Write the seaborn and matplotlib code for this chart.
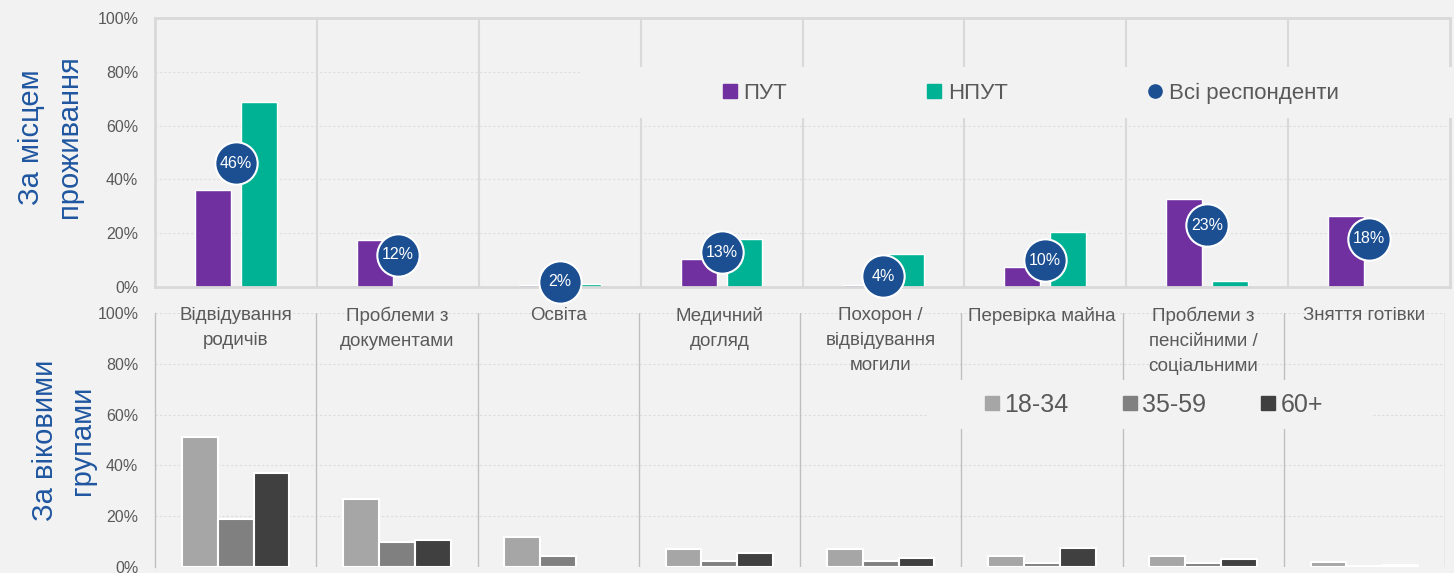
import numpy as np
import pandas as pd
import matplotlib
matplotlib.use("Agg")
import matplotlib.pyplot as plt
import seaborn as sns
from matplotlib.lines import Line2D
from matplotlib.patches import Rectangle
from matplotlib.ticker import PercentFormatter

# --- data ---
categories = ["Відвідування\nродичів", "Проблеми з\nдокументами", "Освіта",
              "Медичний\nдогляд", "Похорон /\nвідвідування\nмогили",
              "Перевірка майна", "Проблеми з\nпенсійними /\nсоціальними",
              "Зняття готівки"]

put = [36, 17.4, 0.8, 10.4, 0.8, 7.3, 32.7, 26.4]
nput = [68.7, 0, 1.1, 18, 12.4, 20.3, 2.2, 0]
all_resp = [46, 12, 2, 13, 4, 10, 23, 18]

age_groups = ["18-34", "35-59", "60+"]
age_18_34 = [51, 26.6, 11.7, 7, 6.9, 4.4, 4.4, 1.9]
age_35_59 = [18.7, 9.6, 4.1, 2.4, 2.3, 1.3, 1.3, 0.4]
age_60 = [36.9, 10.5, 0, 5.3, 3.6, 7.5, 2.9, 0.6]

# --- style ---
BG = "#f2f2f2"
PURPLE = "#7030a0"
TEAL = "#00b294"
BUBBLE = "#1b4f92"
LABEL_BLUE = "#1f56a0"
TXT = "#595959"
GRAYS = ["#a6a6a6", "#808080", "#404040"]

sns.set_theme(style="white")
plt.rcParams["font.family"] = ["Liberation Sans", "DejaVu Sans"]

W, H = 1454, 573
fig = plt.figure(figsize=(W / 100, H / 100), dpi=100, facecolor=BG)
ax1 = fig.add_axes([155 / W, 1 - 287 / H, (1450 - 155) / W, (287 - 18) / H])
ax2 = fig.add_axes([155 / W, 1 - 566.7 / H, (1445 - 155) / W, (566.7 - 313.3) / H])

# --- top panel: by place of residence ---
df_top = pd.DataFrame({
    "cat": categories * 2,
    "group": ["ПУТ"] * len(categories) + ["НПУТ"] * len(categories),
    "value": put + nput,
})
sns.barplot(data=df_top, x="cat", y="value", hue="group",
            palette={"ПУТ": PURPLE, "НПУТ": TEAL}, width=0.568, gap=0.22,
            saturation=1, legend=False, ax=ax1)

pos = np.arange(len(categories))
ax1.scatter(pos, all_resp, s=930, color=BUBBLE, edgecolor="white",
            linewidth=1.5, zorder=5, clip_on=False)
for x, v in zip(pos, all_resp):
    ax1.text(x, v, f"{v}%", ha="center", va="center", color="white",
             fontsize=11.5, zorder=6)

# --- bottom panel: by age group ---
df_age = pd.DataFrame({
    "cat": categories * 3,
    "group": sum([[g] * len(categories) for g in age_groups], []),
    "value": age_18_34 + age_35_59 + age_60,
})
sns.barplot(data=df_age, x="cat", y="value", hue="group",
            palette=dict(zip(age_groups, GRAYS)), width=0.667,
            saturation=1, edgecolor="white", linewidth=1.5,
            legend=False, ax=ax2)
# empty bars should not leave a white outline on the baseline
for p in ax2.patches:
    if p.get_height() == 0:
        p.set_linewidth(0)

for i, c in enumerate(categories):
    ax2.text(i, 102.5, c, ha="center", va="top", fontsize=13.5,
             color=TXT, linespacing=1.62)

# --- axes cosmetics ---
for ax in (ax1, ax2):
    ax.set_facecolor(BG)
    ax.set_xlim(-0.5, len(categories) - 0.5)
    ax.set_ylim(0, 100)
    ax.set_xlabel("")
    ax.set_ylabel("")
    ax.set_yticks([0, 20, 40, 60, 80, 100])
    ax.yaxis.set_major_formatter(PercentFormatter(decimals=0))
    ax.tick_params(axis="y", length=0, pad=12, labelsize=11.5, labelcolor=TXT)
    ax.tick_params(axis="x", length=0, labelbottom=False)

for y in [20, 40, 60, 80]:
    ax1.axhline(y, color="#dedede", lw=0.8, ls=(0, (2, 2)), zorder=0.3)
for x in np.arange(0.5, len(categories) - 1):
    ax1.axvline(x, color="#d9d9d9", lw=1.5, zorder=0.5)
for s in ax1.spines.values():
    s.set_color("#d9d9d9")
    s.set_linewidth(2)

for y in [0, 20, 40, 60, 80, 100]:
    ax2.axhline(y, color="#dcdcdc", lw=0.8, ls=(0, (2, 2)), zorder=0.3)
for x in np.arange(0.5, len(categories)):
    ax2.axvline(x, color="#bfbfbf", lw=1, zorder=0.5)
for side in ["top", "right", "bottom"]:
    ax2.spines[side].set_visible(False)
ax2.spines["left"].set_color("#bfbfbf")
ax2.spines["left"].set_linewidth(1)

# --- legend boxes (cover the grid lines behind them) ---
fig.add_artist(Rectangle((582 / W, 1 - 118 / H), (W - 582) / W, 51 / H,
                         transform=fig.transFigure, facecolor=BG,
                         edgecolor="none", zorder=1))
fig.add_artist(Rectangle((928 / W, 1 - 429 / H), (1371 - 928) / W, 49 / H,
                         transform=fig.transFigure, facecolor=BG,
                         edgecolor="none", zorder=1))

top_handles = [
    Line2D([], [], marker="s", ls="none", color=PURPLE, markersize=10),
    Line2D([], [], marker="s", ls="none", color=TEAL, markersize=10),
    Line2D([], [], marker="o", ls="none", color=BUBBLE, markersize=9.5),
]
fig.legend(top_handles, ["ПУТ", "НПУТ", "Всі респонденти"], ncol=3,
           loc="center left", bbox_to_anchor=(723 / W, 1 - 93 / H),
           frameon=False, fontsize=16, labelcolor=TXT, borderpad=0,
           borderaxespad=0, handlelength=0.63, handletextpad=0.3,
           columnspacing=6.3)

age_handles = [Line2D([], [], marker="s", ls="none", color=c, markersize=10)
               for c in GRAYS]
fig.legend(age_handles, age_groups, ncol=3, loc="center left",
           bbox_to_anchor=(985 / W, 1 - 405 / H), frameon=False,
           fontsize=18, labelcolor=TXT, borderpad=0, borderaxespad=0,
           handlelength=0.56, handletextpad=0.2, columnspacing=2.2)

# --- row titles ---
for x, y, t in [(39, 137, "За місцем"), (77, 137, "проживання"),
                (53, 440, "За віковими"), (90, 440, "групами")]:
    fig.text(x / W, 1 - y / H, t, rotation=90, rotation_mode="anchor",
             ha="center", va="baseline", fontsize=21, color=LABEL_BLUE)

plt.savefig("out.png", dpi=100, facecolor=BG)
